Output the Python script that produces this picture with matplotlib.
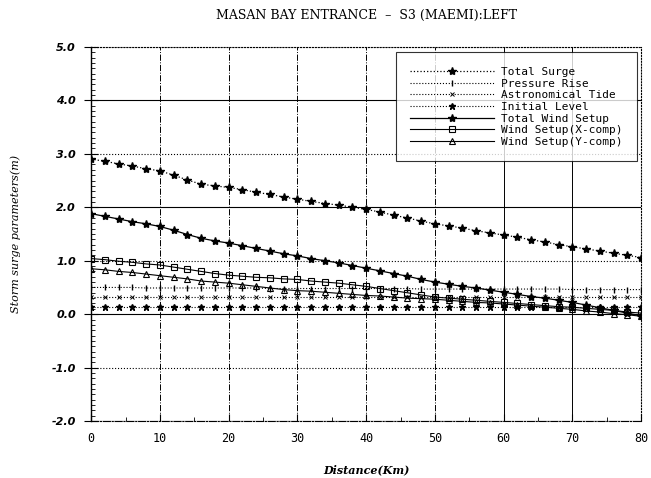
import numpy as np
import matplotlib
matplotlib.use('Agg')
import matplotlib.pyplot as plt
from matplotlib.ticker import MultipleLocator

# Distância ao longo da entrada da baía (km)
distance = list(range(0, 82, 2))

total_surge = [2.90, 2.86, 2.81, 2.77, 2.72, 2.68, 2.60, 2.51, 2.43, 2.40,
               2.37, 2.33, 2.28, 2.24, 2.19, 2.15, 2.11, 2.07, 2.04, 2.00,
               1.96, 1.91, 1.85, 1.80, 1.74, 1.69, 1.65, 1.61, 1.56, 1.52,
               1.48, 1.44, 1.39, 1.35, 1.30, 1.26, 1.22, 1.18, 1.14, 1.10, 1.06]
pressure_rise = [0.50, 0.50, 0.50, 0.50, 0.49, 0.49, 0.49, 0.49, 0.49, 0.49,
                 0.49, 0.49, 0.49, 0.48, 0.48, 0.48, 0.48, 0.48, 0.48, 0.48,
                 0.48, 0.48, 0.48, 0.48, 0.47, 0.47, 0.47, 0.47, 0.47, 0.47,
                 0.47, 0.47, 0.47, 0.47, 0.47, 0.46, 0.46, 0.46, 0.46, 0.46, 0.46]
astro_tide = [0.33, 0.33, 0.33, 0.33, 0.33, 0.33, 0.33, 0.33, 0.33, 0.33,
              0.33, 0.33, 0.33, 0.33, 0.33, 0.33, 0.33, 0.33, 0.33, 0.33,
              0.33, 0.33, 0.33, 0.33, 0.33, 0.33, 0.33, 0.33, 0.33, 0.33,
              0.33, 0.33, 0.33, 0.33, 0.33, 0.33, 0.33, 0.33, 0.33, 0.33, 0.33]
initial_level = [0.14, 0.14, 0.14, 0.14, 0.14, 0.14, 0.14, 0.14, 0.14, 0.14,
                 0.14, 0.14, 0.14, 0.14, 0.14, 0.14, 0.14, 0.14, 0.14, 0.14,
                 0.14, 0.14, 0.14, 0.14, 0.14, 0.14, 0.14, 0.14, 0.14, 0.14,
                 0.14, 0.14, 0.14, 0.14, 0.14, 0.14, 0.14, 0.14, 0.14, 0.14, 0.14]
total_wind = [1.88, 1.83, 1.78, 1.73, 1.69, 1.64, 1.57, 1.49, 1.42, 1.37,
              1.33, 1.28, 1.23, 1.18, 1.13, 1.09, 1.04, 1.00, 0.96, 0.91,
              0.86, 0.81, 0.76, 0.71, 0.65, 0.60, 0.56, 0.52, 0.49, 0.45,
              0.41, 0.37, 0.33, 0.30, 0.26, 0.22, 0.17, 0.12, 0.07, 0.02, -0.03]
wind_x = [1.04, 1.02, 0.99, 0.97, 0.94, 0.92, 0.88, 0.84, 0.80, 0.76,
          0.73, 0.71, 0.69, 0.68, 0.66, 0.65, 0.62, 0.60, 0.58, 0.55,
          0.52, 0.48, 0.44, 0.40, 0.36, 0.32, 0.30, 0.28, 0.26, 0.24,
          0.22, 0.20, 0.18, 0.16, 0.14, 0.13, 0.11, 0.09, 0.07, 0.04, 0.02]
wind_y = [0.85, 0.83, 0.80, 0.78, 0.75, 0.72, 0.69, 0.66, 0.62, 0.60,
          0.58, 0.55, 0.52, 0.49, 0.46, 0.44, 0.43, 0.41, 0.39, 0.37,
          0.35, 0.34, 0.32, 0.30, 0.29, 0.28, 0.26, 0.24, 0.22, 0.21,
          0.19, 0.17, 0.15, 0.13, 0.11, 0.09, 0.06, 0.04, 0.01, -0.01, -0.04]

x_ticks = [0, 10, 20, 30, 40, 50, 60, 70, 80]
y_ticks = [-2.0, -1.0, 0.0, 1.0, 2.0, 3.0, 4.0, 5.0]

fig = plt.figure(figsize=(6.51, 4.78), dpi=100)
ax = fig.add_axes([0.140, 0.119, 0.845, 0.783])

# Grade: linhas pares contínuas, ímpares pontilhadas
for yv in y_ticks:
    ls = '-' if int(yv) % 2 == 0 else ':'
    ax.axhline(yv, color='black', lw=0.8, ls=ls, zorder=0)
for xv in x_ticks[1:-1]:
    ls = '-' if xv >= 60 else '-.'
    ax.axvline(xv, color='black', lw=0.7, ls=ls, zorder=0)

ax.plot(distance, total_surge, ls=':', color='black', lw=0.9, marker='*',
        ms=6, label='Total Surge')
ax.plot(distance, pressure_rise, ls=':', color='black', lw=0.8, marker='|',
        ms=4, label='Pressure Rise')
ax.plot(distance, astro_tide, ls=':', color='black', lw=0.8, marker='x',
        ms=3.5, mew=0.7, label='Astronomical Tide')
ax.plot(distance, initial_level, ls=':', color='black', lw=0.8, marker='*',
        ms=4.5, label='Initial Level')
ax.plot(distance, total_wind, ls='-', color='black', lw=0.9, marker='*',
        ms=6, label='Total Wind Setup')
ax.plot(distance, wind_x, ls='-', color='black', lw=0.8, marker='s',
        ms=4.5, mfc='none', mew=0.8, label='Wind Setup(X-comp)')
ax.plot(distance, wind_y, ls='-', color='black', lw=0.8, marker='^',
        ms=4.5, mfc='none', mew=0.8, label='Wind Setup(Y-comp)')

ax.set_xlim(0, 80)
ax.set_ylim(-2.0, 5.0)
ax.set_xticks(x_ticks)
ax.set_xticklabels([str(v) for v in x_ticks], fontsize=8.5, family='DejaVu Sans Mono')
ax.set_yticks(y_ticks)
ax.set_yticklabels(['%.1f' % v for v in y_ticks], fontsize=8,
                   fontweight='bold', fontstyle='italic')
ax.xaxis.set_minor_locator(MultipleLocator(5))
ax.yaxis.set_minor_locator(MultipleLocator(0.1))
ax.tick_params(axis='x', which='major', direction='in', length=5, width=0.8, pad=8)
ax.tick_params(axis='y', which='major', direction='inout', length=10, width=0.8, pad=6)
ax.tick_params(axis='both', which='minor', direction='in', length=3, width=0.6)
ax.tick_params(top=False, right=False)

for side in ('top', 'right'):
    ax.spines[side].set_linestyle(':')
    ax.spines[side].set_linewidth(0.8)
ax.spines['bottom'].set_linestyle('-.')
ax.spines['bottom'].set_linewidth(0.8)
ax.spines['left'].set_linewidth(1.0)

ax.set_title('MASAN BAY ENTRANCE  –  S3 (MAEMI):LEFT', fontsize=9,
             family='DejaVu Serif', pad=20)
ax.set_xlabel('Distance(Km)', fontsize=8, family='DejaVu Serif',
              fontweight='bold', fontstyle='italic', labelpad=14)
ax.set_ylabel('Storm surge parameters(m)', fontsize=8, family='DejaVu Serif',
              fontstyle='italic', labelpad=22)

leg = ax.legend(loc='upper right', bbox_to_anchor=(0.993, 0.985),
                frameon=True, fancybox=False, edgecolor='black',
                handlelength=7.5, handletextpad=0.7, labelspacing=0.15,
                borderpad=1.3, borderaxespad=0.0,
                prop={'family': 'DejaVu Sans Mono', 'size': 8})
leg.get_frame().set_linewidth(0.8)

fig.savefig('out.png', dpi=100)
